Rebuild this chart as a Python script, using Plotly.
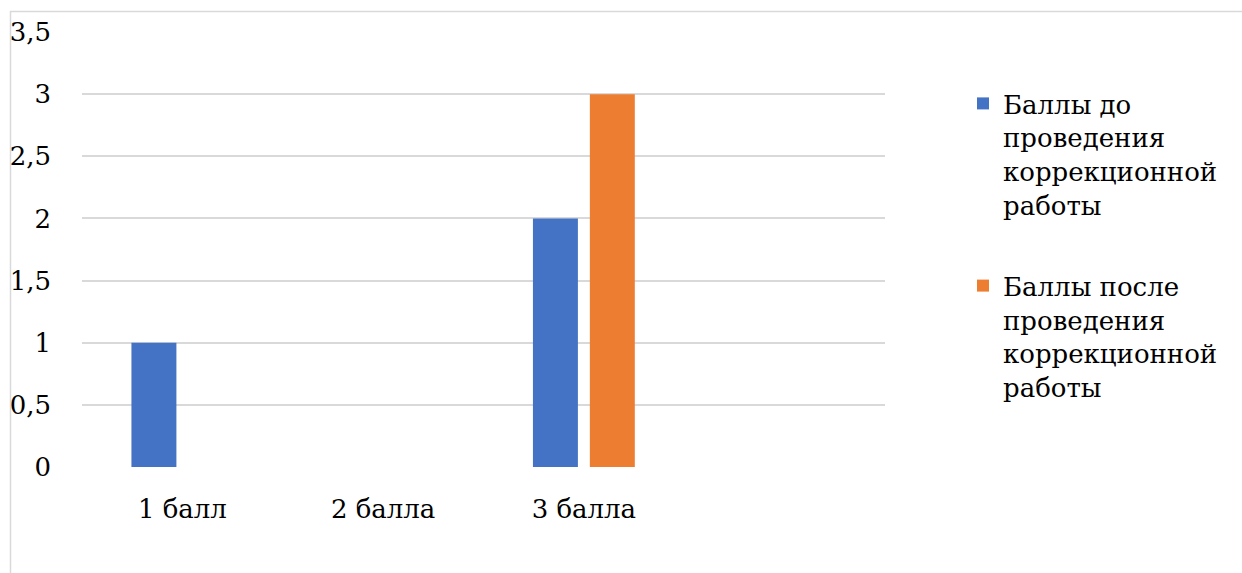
import plotly.graph_objects as go

categories = ["1 балл", "2 балла", "3 балла"]
before = [1, 0, 2]
after = [0, 0, 3]
series_names = ["Баллы до<br>проведения<br>коррекционной<br>работы",
                "Баллы после<br>проведения<br>коррекционной<br>работы"]
y_ticks = [0, 0.5, 1, 1.5, 2, 2.5, 3, 3.5]

FONT = "DejaVu Serif"
FS = 26
W, H = 1242, 573
L, R, T, B = 82, 885, 32, 467

fig = go.Figure()
fig.add_trace(go.Bar(x=categories, y=before, name=series_names[0], legendgroup="a",
                     marker=dict(color="#4472C4", line=dict(width=0))))
fig.add_trace(go.Bar(x=categories, y=after, name=series_names[1], legendgroup="b",
                     marker=dict(color="#ED7D31", line=dict(width=0))))

pw, ph = R - L, B - T
fig.add_shape(type="rect", xref="paper", yref="paper",
              x0=(10.5 - L) / pw, x1=(W + 20 - L) / pw,
              y0=(B - (H + 20)) / ph, y1=(B - 11.5) / ph,
              line=dict(color="#d9d9d9", width=1.5), fillcolor="rgba(0,0,0,0)", layer="below")

fig.update_layout(
    template="none",
    width=W, height=H,
    margin=dict(l=L, r=W - R, t=T, b=H - B, pad=0),
    paper_bgcolor="white", plot_bgcolor="white",
    font=dict(family=FONT, size=FS, color="black"),
    separators=", ",
    barmode="group", bargap=0.433, bargroupgap=0.21,
    showlegend=True,
    legend=dict(x=(963 - L) / pw, y=(B - 80) / ph, xanchor="left", yanchor="top",
                valign="top", tracegroupgap=44, font=dict(size=FS, family=FONT, color="black"),
                itemwidth=30, bgcolor="rgba(0,0,0,0)", borderwidth=0),
    xaxis=dict(range=[-0.5, 3.5], showgrid=False, zeroline=False, showline=False,
               ticks="", ticklabelstandoff=24, tickfont=dict(size=FS, family=FONT)),
    yaxis=dict(range=[0, 3.5], tickvals=y_ticks, showgrid=True, gridcolor="#d9d9d9",
               gridwidth=1.5, zeroline=False, showline=False, ticks="",
               ticklabelstandoff=30, tickfont=dict(size=FS, family=FONT)),
)
fig.write_html("out.html")
